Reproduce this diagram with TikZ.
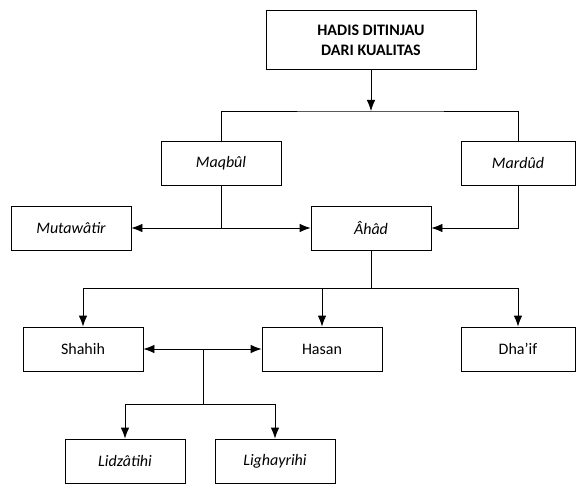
\documentclass[tikz,border=0pt]{standalone}
\usepackage{fontspec}
\setmainfont{Carlito}
\usetikzlibrary{arrows.meta,positioning}

\begin{document}
\begin{tikzpicture}[x=1pt,y=-1pt,on grid,line width=0.8pt,
    font=\fontsize{16}{19}\selectfont,
    box/.style={draw,minimum width=120pt,minimum height=44pt,inner sep=2pt},
    arr/.style={-{Latex[length=11pt,width=8.5pt]}}]
                            \useasboundingbox (0,0) rectangle (576,484);
                            \node[box,minimum width=210pt,minimum height=59pt,align=center,font=\fontsize{16}{20}\selectfont\bfseries]
                                                    (hadis) at (371,40) {HADIS DITINJAU\\DARI KUALITAS};
                            \node[box]              (maqbul) [below left=123pt and 150pt of hadis]  {\itshape Maqbûl};
                            \node[box,minimum width=114pt] (mardud) [below right=123pt and 147pt of hadis] {\itshape Mardûd};
                            \node[box]              (ahad) [below=188pt of hadis]   {\itshape Âhâd};
                            \node[box]              (mutawatir) [left=300pt of ahad]  {\itshape Mutawâtir};
                            \node[box]              (shahih) [below left=121pt and 288pt of ahad] {Shahih};
                            \node[box]              (hasan) [below left=121pt and 49pt of ahad] {Hasan};
                            \node[box,minimum width=114pt] (dhaif) [below=186pt of mardud] {Dha’if};
                            \node[box]              (lidzatihi) [below right=112pt and 42pt of shahih] {\itshape Lidzâtihi};
                            \node[box]              (lighayrihi) [right=150pt of lidzatihi] {\itshape Lighayrihi};

                            \coordinate (j1) at (371,111);
                            \coordinate (j2) at (221,228);
                            \coordinate (j3) at (371,288);
                            \coordinate (j4) at (203,349);
                            \coordinate (j5) at (203,404);

                            \draw[arr] (hadis) -- (j1);
                            \draw (maqbul.north) |- (j1) -| (mardud.north);
                            \draw (maqbul.south) -- (j2);
                            \draw[arr] (j2) -- (mutawatir.east);
                            \draw[arr] (j2) -- (ahad.west);
                            \draw[arr] (mardud.south) |- (ahad.east);
                            \draw (ahad.south) -- (j3);
                            \draw[arr] (j3) -| (shahih.north);
                            \draw[arr] (j3) -| (hasan.north);
                            \draw[arr] (j3) -| (dhaif.north);
                            \draw[arr] (j4) -- (shahih.east);
                            \draw[arr] (j4) -- (hasan.west);
                            \draw (j4) -- (j5);
                            \draw[arr] (j5) -| (lidzatihi.north);
                            \draw[arr] (j5) -| (lighayrihi.north);
                        \end{tikzpicture}
\end{document}
